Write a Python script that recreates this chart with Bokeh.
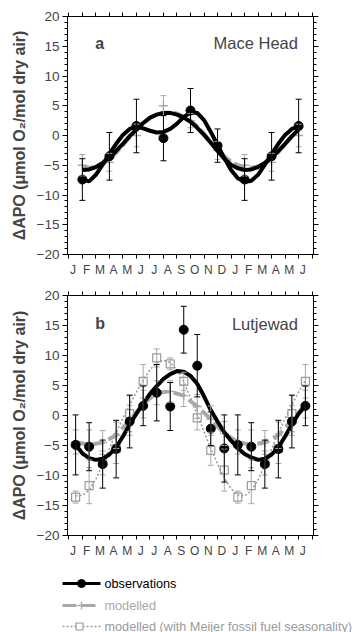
from bokeh.plotting import figure
from bokeh.layouts import column
from bokeh.models import (Range1d, LinearAxis, FixedTicker, SingleIntervalTicker,
                          ColumnDataSource, Whisker, TeeHead, Label)
from bokeh.embed import file_html
from bokeh.resources import INLINE
from bokeh.core.properties import value

FONT = "Liberation Sans"
BLACK = "#000000"
GREY = "#a8a8a8"
GREY_DOT = "#9a9a9a"

# ---------------- data ----------------
month_labels = ["J", "F", "M", "A", "M", "J", "J", "A", "S", "O", "N", "D",
                "J", "F", "M", "A", "M", "J"]
month_edges = [0, 1, 2, 3, 4, 5, 6, 7, 8, 9, 10, 11, 12, 13, 14, 15, 16, 17, 18]
label_pos = [0.3125, 1.3125, 2.3125, 3.3125, 4.3125, 5.3125, 6.3125, 7.3125, 8.3125,
             9.3125, 10.3125, 11.3125, 12.3125, 13.3125, 14.3125, 15.3125, 16.3125, 17.3125]
y_ticks = [-20, -15, -10, -5, 0, 5, 10, 15, 20]

# Panel a - Mace Head
a_x = [1, 3, 5, 7, 9, 11, 13, 15, 17]
a_obs = [-7.4, -3.5, 1.6, -0.45, 4.2, -1.7, -7.4, -3.5, 1.6]
a_obs_err = [3.5, 4.0, 4.5, 3.8, 3.7, 2.8, 3.5, 4.0, 4.5]
a_mod = [-5.0, -4.5, 0.0, 5.0, 2.5, -2.5, -5.0, -4.5, 0.0]
a_mod_err = [1.8, 1.5, 1.9, 1.7, 1.2, 1.5, 1.8, 1.5, 1.9]

a_curve_x = [1.0, 1.5, 2.0, 2.5, 3.0, 3.5, 4.0, 4.5, 5.0, 5.5, 6.0, 6.5, 7.0, 7.5, 8.0,
             8.5, 9.0, 9.5, 10.0, 10.5, 11.0, 11.5, 12.0, 12.5, 13.0, 13.5, 14.0, 14.5,
             15.0, 15.5, 16.0, 16.5, 17.0]
a_obs_fit_smooth = [-5.8, -5.7, -5.3, -4.6, -3.7, -2.6, -1.4, -0.1, 1.0, 2.1, 3.0, 3.5, 3.8,
                    3.8, 3.5, 3.0, 2.3, 1.3, 0.1, -1.2, -2.6, -3.9, -4.9, -5.5, -5.8, -5.7,
                    -5.3, -4.6, -3.7, -2.6, -1.4, -0.1, 1.0]
a_obs_fit_harm = [-7.4, -7.7, -6.6, -4.9, -3.1, -1.4, 0.1, 1.1, 1.5, 1.2, 0.8, 0.5, 0.6,
                  1.1, 2.0, 3.1, 3.9, 3.8, 2.6, 0.6, -1.6, -3.8, -5.8, -7.2, -7.8, -7.6,
                  -6.6, -4.9, -3.1, -1.4, 0.1, 1.1, 1.5]
a_mod_fit = [-5.2, -5.4, -5.3, -4.8, -4.0, -2.9, -1.6, -0.3, 0.9, 2.0, 2.9, 3.5, 3.8, 3.9,
             3.7, 3.2, 2.5, 1.5, 0.3, -1.0, -2.3, -3.5, -4.4, -5.0, -5.3, -5.4, -5.2, -4.7,
             -3.9, -2.8, -1.5, -0.2, 0.9]

# Panel b - Lutjewad
b_x = [0.5, 1.5, 2.5, 3.5, 4.5, 5.5, 6.5, 7.5, 8.5, 9.5, 10.5, 11.5,
       12.5, 13.5, 14.5, 15.5, 16.5, 17.5]
b_obs = [-4.9, -5.2, -8.1, -5.6, -1.0, 1.6, 3.8, 1.5, 14.3, 8.3, -2.2, -5.5,
         -4.9, -5.2, -8.1, -5.6, -1.0, 1.6]
b_obs_err = [5.0, 4.0, 4.0, 4.8, 4.4, 3.3, 4.7, 4.0, 3.9, 5.2, 2.8, 5.6,
             5.0, 4.0, 4.0, 4.8, 4.4, 3.3]
b_mod = [-4.4, -4.9, -4.5, -3.3, -0.8, 1.9, 3.8, 4.0, 3.3, 1.5, -0.6, -3.0,
         -4.4, -4.9, -4.5, -3.3, -0.8, 1.9]
b_mod_err = [2.0, 2.5, 2.0, 2.2, 2.5, 2.3, 2.0, 1.8, 1.8, 2.0, 2.2, 2.0,
             2.0, 2.5, 2.0, 2.2, 2.5, 2.3]
b_mei = [-13.6, -11.7, -7.9, -5.5, 0.3, 5.7, 9.6, 8.6, 5.7, -0.4, -5.8, -9.1,
         -13.6, -11.7, -7.9, -5.5, 0.3, 5.7]
b_mei_err = [1.0, 3.0, 2.0, 2.5, 3.0, 2.8, 1.5, 1.0, 1.5, 2.0, 2.5, 3.5,
             1.0, 3.0, 2.0, 2.5, 3.0, 2.8]

b_curve_x = [0.5, 1.0, 1.5, 2.0, 2.5, 3.0, 3.5, 4.0, 4.5, 5.0, 5.5, 6.0, 6.5, 7.0, 7.5,
             8.0, 8.5, 9.0, 9.5, 10.0, 10.5, 11.0, 11.5, 12.0, 12.5, 13.0, 13.5, 14.0,
             14.5, 15.0, 15.5, 16.0, 16.5, 17.0, 17.5]
b_obs_fit = [-4.9, -6.3, -7.1, -7.4, -7.2, -6.5, -5.3, -3.5, -1.5, 0.3, 2.0, 3.6, 4.9, 6.1,
             6.9, 7.4, 7.3, 6.6, 5.3, 3.2, 0.9, -1.0, -2.8, -4.2, -5.4, -6.4, -7.0, -7.4,
             -7.2, -6.5, -5.3, -3.5, -1.5, 0.3, 1.6]
b_mei_fit = [-13.4, -13.3, -12.4, -10.6, -8.2, -5.5, -2.8, -0.4, 1.8, 3.9, 5.9, 7.6, 8.8,
             9.2, 8.8, 7.6, 5.6, 3.0, 0.2, -2.7, -5.5, -8.1, -10.4, -12.2, -13.3, -13.4,
             -12.5, -10.7, -8.3, -5.6, -2.9, -0.5, 1.8, 3.9, 5.9]

legend_labels = ["observations", "modelled", "modelled (with Meijer fossil fuel seasonality)"]

Y_LABEL = "\u0394APO (\u03bcmol O\u2082/mol dry air)"

BORDER_L = 67
BORDER_R = 41


def make_panel(height, border_bottom):
    p = figure(width=354, height=height,
               x_range=Range1d(-0.1, 18.1), y_range=Range1d(-20, 20),
               output_backend="svg", toolbar_location=None,
               x_axis_location=None, y_axis_location=None,
               min_border_left=BORDER_L, min_border_right=BORDER_R,
               min_border_top=16, min_border_bottom=border_bottom)
    p.xgrid.grid_line_color = None
    p.ygrid.grid_line_color = None
    p.outline_line_color = BLACK
    p.outline_line_width = 1

    left = LinearAxis(ticker=SingleIntervalTicker(interval=5, num_minor_ticks=5),
                      axis_label=Y_LABEL)
    left.axis_label_text_font = FONT
    left.axis_label_text_font_style = "bold"
    left.axis_label_text_font_size = "16px"
    left.axis_label_standoff = 6
    left.major_label_text_font = FONT
    left.major_label_text_font_size = "13.5px"
    left.major_label_standoff = 3
    left.major_tick_in = 0
    left.major_tick_out = 5
    left.minor_tick_in = 0
    left.minor_tick_out = 3
    p.add_layout(left, "left")

    right = LinearAxis(ticker=SingleIntervalTicker(interval=5, num_minor_ticks=5),
                       major_label_overrides={t: "" for t in y_ticks})
    right.major_label_text_color = None
    right.major_tick_in = 0
    right.major_tick_out = 5
    right.minor_tick_in = 0
    right.minor_tick_out = 3
    p.add_layout(right, "right")

    bottom = LinearAxis(ticker=FixedTicker(ticks=label_pos, minor_ticks=month_edges),
                        major_label_overrides=dict(zip(label_pos, month_labels)))
    bottom.major_tick_line_color = None
    bottom.major_tick_in = 0
    bottom.major_tick_out = 0
    bottom.minor_tick_in = 0
    bottom.minor_tick_out = 4
    bottom.major_label_standoff = 4
    bottom.major_label_text_font = FONT
    bottom.major_label_text_font_size = "12px"
    p.add_layout(bottom, "below")

    top = LinearAxis(ticker=FixedTicker(ticks=month_edges),
                     major_label_overrides={t: "" for t in month_edges})
    top.major_label_text_color = None
    top.major_tick_in = 0
    top.major_tick_out = 4
    top.minor_tick_line_color = None
    p.add_layout(top, "above")
    return p


def whiskers(p, xs, ys, errs, color):
    src = ColumnDataSource(dict(x=xs,
                                upper=[y + e for y, e in zip(ys, errs)],
                                lower=[y - e for y, e in zip(ys, errs)]))
    w = Whisker(source=src, base="x", upper="upper", lower="lower",
                line_color=color, line_width=1,
                upper_head=TeeHead(size=6, line_color=color, line_width=1),
                lower_head=TeeHead(size=6, line_color=color, line_width=1))
    w.level = "glyph"
    p.add_layout(w)


def panel_labels(p, letter, site, y):
    p.add_layout(Label(x=1.95, y=y, text=letter, text_font=FONT, text_font_style="bold",
                       text_font_size="16px", text_baseline="middle"))
    p.add_layout(Label(x=16.95, y=y, text=site, text_font=FONT, text_font_size="16.5px",
                       text_align="right", text_baseline="middle"))


# ---------------- panel a ----------------
pa = make_panel(279, 18)
whiskers(pa, a_x, a_mod, a_mod_err, GREY)
pa.line(a_curve_x, a_mod_fit, line_color=GREY, line_width=4, line_dash="12 4")
pa.scatter(a_x, a_mod, marker="cross", size=9, line_color=GREY, line_width=1.3)
whiskers(pa, a_x, a_obs, a_obs_err, BLACK)
pa.line(a_curve_x, a_obs_fit_smooth, line_color=BLACK, line_width=4)
pa.line(a_curve_x, a_obs_fit_harm, line_color=BLACK, line_width=4)
pa.scatter(a_x, a_obs, marker="circle", size=9, fill_color=BLACK, line_color=BLACK)
panel_labels(pa, "a", "Mace Head", 15.5)

# ---------------- panel b ----------------
pb = make_panel(281, 20)
whiskers(pb, b_x, b_mei, b_mei_err, GREY)
pb.line(b_curve_x, b_mei_fit, line_color=GREY_DOT, line_width=1.5, line_dash="2 2")
pb.scatter(b_x, b_mei, marker="square", size=8, fill_color=None, line_color=GREY_DOT,
           line_width=1.2)
whiskers(pb, b_x, b_mod, b_mod_err, GREY)
pb.line(b_x, b_mod, line_color=GREY, line_width=4, line_dash="12 5")
pb.scatter(b_x, b_mod, marker="cross", size=9, line_color=GREY, line_width=1.3)
whiskers(pb, b_x, b_obs, b_obs_err, BLACK)
pb.line(b_curve_x, b_obs_fit, line_color=BLACK, line_width=4)
pb.scatter(b_x, b_obs, marker="circle", size=9, fill_color=BLACK, line_color=BLACK)
panel_labels(pb, "b", "Lutjewad", 15.3)

# ---------------- legend strip (pixel coordinates, frame not aligned) ----------------
lg = figure(width=354, height=72, x_range=Range1d(0, 354), y_range=Range1d(632, 560),
            output_backend="svg", toolbar_location=None,
            x_axis_location=None, y_axis_location=None,
            min_border_left=0, min_border_right=0, min_border_top=0, min_border_bottom=0)
lg.frame_align = False
lg.xgrid.grid_line_color = None
lg.ygrid.grid_line_color = None
lg.outline_line_color = None

row_y = [583, 605, 626]
sample_x = [62, 100]
text_x = 104

lg.line(sample_x, [row_y[0], row_y[0]], line_color=BLACK, line_width=3)
lg.scatter([81], [row_y[0]], marker="circle", size=8, fill_color=BLACK, line_color=BLACK)
lg.line(sample_x, [row_y[1], row_y[1]], line_color=GREY, line_width=3, line_dash="14 5")
lg.scatter([81], [row_y[1]], marker="cross", size=8, line_color=GREY, line_width=1.3)
lg.line(sample_x, [row_y[2], row_y[2]], line_color=GREY_DOT, line_width=1.3, line_dash="2 2")
lg.scatter([79], [row_y[2]], marker="square", size=7, fill_color="white",
           line_color=GREY_DOT, line_width=1.2)
lg.text(x=[text_x] * 3, y=row_y, text=legend_labels,
        text_color=[BLACK, GREY, GREY_DOT], text_baseline="middle",
        text_font=value(FONT), text_font_size="12.7px")

layout = column(pa, pb, lg, spacing=0)
open("out.html", "w").write(file_html(layout, INLINE))
